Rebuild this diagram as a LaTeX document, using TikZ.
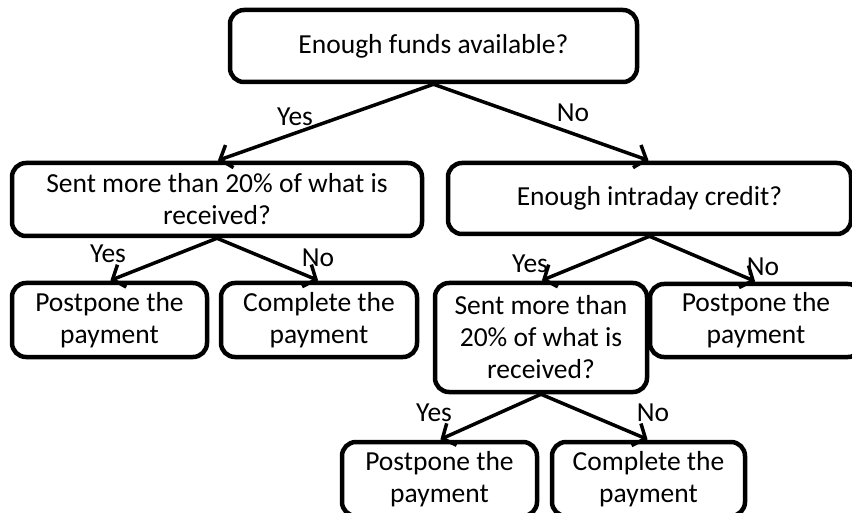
\documentclass[tikz,border=0pt]{standalone}
\usepackage{fontspec}
\setmainfont{Carlito}
\usetikzlibrary{arrows.meta}
\begin{document}
\begin{tikzpicture}[x=1pt,y=-1pt,
  box/.style={draw,line width=4.5pt,rounded corners=14pt,align=center,inner sep=0pt,font=\fontsize{27.5}{32}\selectfont},
  lab/.style={font=\fontsize{27.5}{32}\selectfont,inner sep=0pt},
  arr/.style={line width=3.5pt,-{Straight Barb[length=10pt,width=24pt]},shorten >=1pt}]
\useasboundingbox (0,0) rectangle (852,513);
\clip (0,0) rectangle (852,513);
\node[box,minimum width=407pt,minimum height=72pt] (top) at (433.5,46) {Enough funds available?};
\node[box,minimum width=410pt,minimum height=73pt] (l1) at (217,199.5) {Sent more than 20\% of what is\\received?};
\node[box,minimum width=403pt,minimum height=71pt] (r1) at (649.5,198.5) {Enough intraday credit?};
\node[box,minimum width=195pt,minimum height=74pt] (ll) at (109.5,320) {Postpone the\\payment};
\node[box,minimum width=196pt,minimum height=74pt] (lr) at (319,320) {Complete the\\payment};
\node[box,minimum width=212pt,minimum height=109pt] (m) at (541,337.5) {Sent more than\\20\% of what is\\received?};
\node[box,minimum width=212pt,minimum height=73pt] (rr) at (756,320.5) {Postpone the\\payment};
\node[box,minimum width=195pt,minimum height=74pt] (bl) at (439.5,479) {Postpone the\\payment};
\node[box,minimum width=193pt,minimum height=74pt] (br) at (648.5,479) {Complete the\\payment};
\draw[arr] (top.south) -- (l1.north);
\draw[arr] (top.south) -- (r1.north);
\draw[arr] (l1.south) -- (ll.north);
\draw[arr] (l1.south) -- (lr.north);
\draw[arr] (r1.south) -- (m.north);
\draw[arr] (r1.south) -- (rr.north);
\draw[arr] (m.south) -- (bl.north);
\draw[arr] (m.south) -- (br.north);
\node[lab] (y1) at (295,117) {Yes};
\node[lab] (n1) at (573,113) {No};
\node[lab] (y2) at (108,254) {Yes};
\node[lab] (n2) at (318,258) {No};
\node[lab] (y3) at (530,264) {Yes};
\node[lab] (n3) at (763,267) {No};
\node[lab] (y4) at (434,413) {Yes};
\node[lab] (n4) at (653,413) {No};
\end{tikzpicture}
\end{document}
